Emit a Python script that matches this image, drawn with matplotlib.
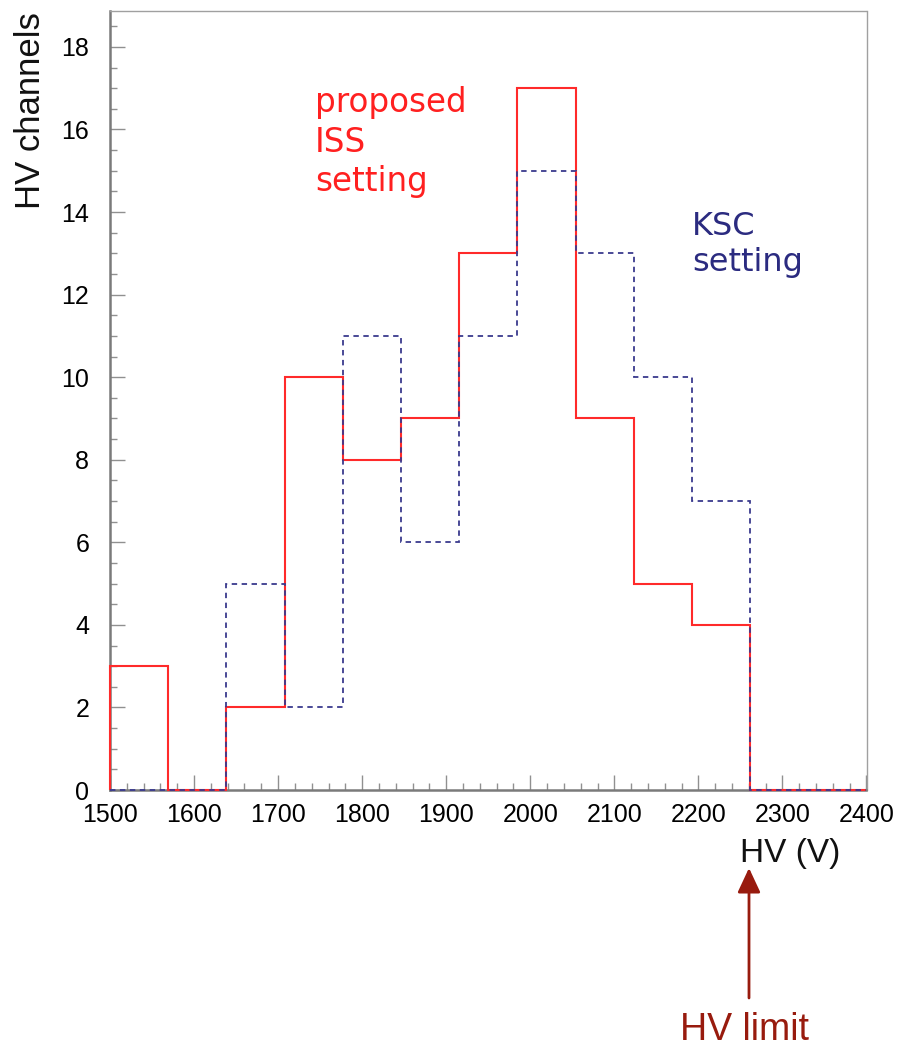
import matplotlib
matplotlib.use("Agg")
import matplotlib.pyplot as plt
import numpy as np
from matplotlib.ticker import MultipleLocator

# ---- data ----
x_min, x_max, n_bins = 1500, 2400, 13
iss_counts = [3, 0, 2, 10, 8, 9, 13, 17, 9, 5, 4, 0, 0]
ksc_counts = [0, 0, 5, 2, 11, 6, 11, 15, 13, 10, 7, 0, 0]
x_ticks = [1500, 1600, 1700, 1800, 1900, 2000, 2100, 2200, 2300, 2400]
y_ticks = [0, 2, 4, 6, 8, 10, 12, 14, 16, 18]

edges = np.linspace(x_min, x_max, n_bins + 1)

W, H = 901, 1047
fig = plt.figure(figsize=(W / 100, H / 100), dpi=100)
fig.patch.set_facecolor("white")

L, R, T, B = 110, 866.5, 11, 790
ax = fig.add_axes([L / W, 1 - B / H, (R - L) / W, (B - T) / H])
ax.set_xlim(x_min, x_max)
ax.set_ylim(0, 18.87)

red = "#ff2a2a"
navy = "#3a3a8e"
ax.stairs(iss_counts, edges, baseline=0, color=red, lw=1.5, clip_on=False, zorder=3)
ax.stairs(ksc_counts, edges, baseline=0, color=navy, lw=1.3,
          linestyle=(0, (3, 2.5)), clip_on=False, zorder=4)

for s in ax.spines.values():
    s.set_color("#7a7a7a")
    s.set_linewidth(1.8)
ax.spines["top"].set_linewidth(1.0)
ax.spines["right"].set_linewidth(1.0)
ax.spines["top"].set_color("#a0a0a0")
ax.spines["right"].set_color("#a0a0a0")

ax.set_xticks(x_ticks)
ax.set_yticks(y_ticks)
ax.xaxis.set_minor_locator(MultipleLocator(20))
ax.yaxis.set_minor_locator(MultipleLocator(0.5))
ax.tick_params(which="both", direction="in", color="#909090", width=1.0,
               top=False, right=False)
ax.tick_params(which="major", length=10.5)
ax.tick_params(which="minor", length=5)
ax.tick_params(axis="x", which="major", pad=9, labelsize=18)
ax.tick_params(axis="y", which="major", pad=15, labelsize=18)
for lab in ax.get_xticklabels() + ax.get_yticklabels():
    lab.set_fontfamily(["Liberation Sans", "DejaVu Sans"])

# axis titles
fig.text(31 / W, 1 - 12 / H, "HV channels", rotation=90, ha="center", va="top",
         fontsize=25, family=["Liberation Sans", "DejaVu Sans"], color="#111111")
fig.text(740 / W, 1 - 862 / H, "HV (V)", ha="left", va="baseline",
         fontsize=24, family=["Liberation Sans", "DejaVu Sans"], color="#111111")

# annotations
fig.text(315 / W, 1 - 86 / H, "proposed\nISS\nsetting", ha="left", va="top",
         fontsize=23.5, family=["DejaVu Sans"], color="#ff2020", linespacing=1.25)
fig.text(692 / W, 1 - 211 / H, "KSC\nsetting", ha="left", va="top",
         fontsize=23, family=["DejaVu Sans"], color="#2b2b80", linespacing=1.22)

dark_red = "#981b0e"
ax_f = fig.add_axes([0, 0, 1, 1], facecolor="none")
ax_f.set_xlim(0, W)
ax_f.set_ylim(H, 0)
ax_f.axis("off")
ax_f.annotate("", xy=(749, 868), xytext=(749, 998),
              arrowprops=dict(arrowstyle="-|>,head_length=1.5,head_width=0.7",
                              color=dark_red, lw=2, shrinkA=0, shrinkB=0))
fig.text(680 / W, 1 - 1040 / H, "HV limit", ha="left", va="baseline",
         fontsize=27, family=["Liberation Sans", "DejaVu Sans"], color=dark_red)

fig.savefig("out.png", dpi=100)
